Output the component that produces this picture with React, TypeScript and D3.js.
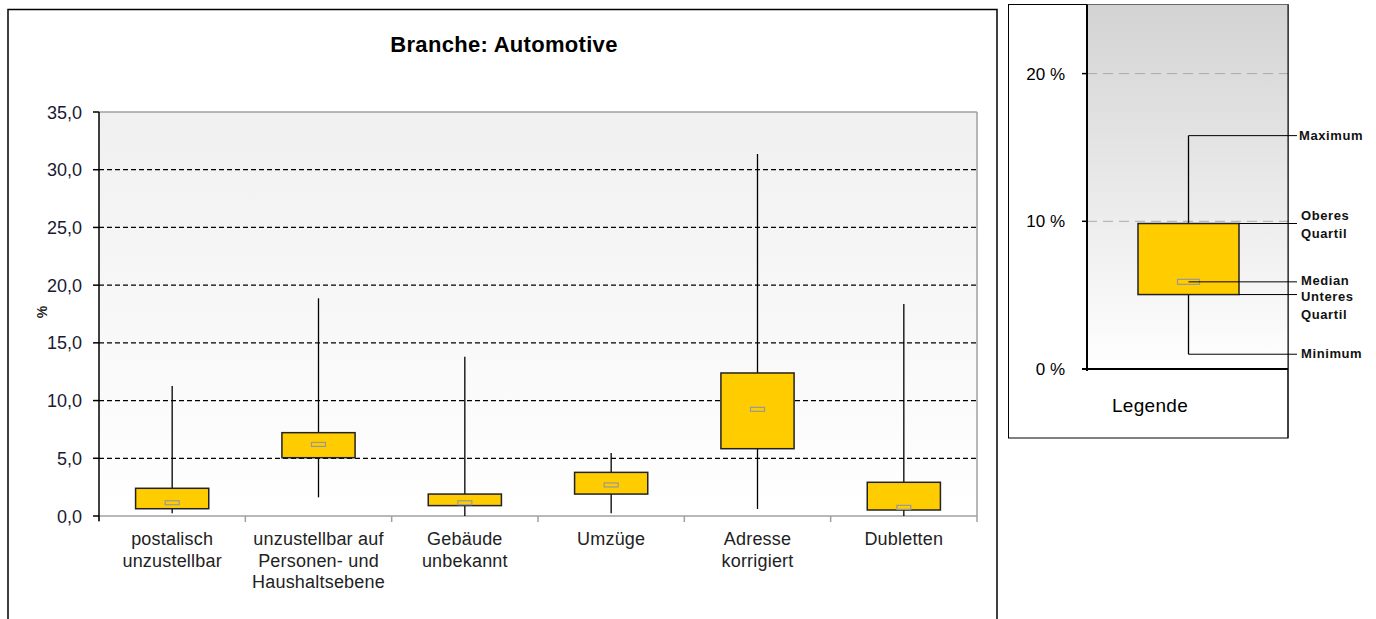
import React from "react";
import * as d3 from "d3";

const categories = [
  ["postalisch", "unzustellbar"],
  ["unzustellbar auf", "Personen- und", "Haushaltsebene"],
  ["Gebäude", "unbekannt"],
  ["Umzüge"],
  ["Adresse", "korrigiert"],
  ["Dubletten"],
];
const minValues = [0.23, 1.62, 0.0, 0.23, 0.6, 0.0];
const q1Values = [0.63, 5.05, 0.9, 1.9, 5.83, 0.52];
const medianValues = [1.15, 6.2, 1.15, 2.69, 9.24, 0.75];
const q3Values = [2.4, 7.22, 1.9, 3.78, 12.39, 2.92];
const maxValues = [11.26, 18.86, 13.8, 5.46, 31.36, 18.37];
const yTicks = [0, 5, 10, 15, 20, 25, 30, 35];

const legendStats = { min: 1.0, q1: 5.04, median: 5.9, q3: 9.85, max: 15.8 };
const legendTicks = [0, 10, 20];

const GOLD = "#ffcc00";
const FONT = "Arial, 'Liberation Sans', sans-serif";

export default function App() {
  const x0 = 99, x1 = 977, yTop = 112, yBot = 516;
  const y = d3.scaleLinear().domain([0, 35]).range([yBot, yTop]);
  const x = d3.scaleBand().domain(categories.map((_, i) => String(i))).range([x0, x1]).padding(0);
  const bw = x.bandwidth();
  const boxW = bw / 2;

  const ly = d3.scaleLinear().domain([0, 10]).range([369, 221.3]);
  const lx0 = 1087, lx1 = 1288;
  const lc = 1188.5, lbw = 101;
  const labX = 1299, lineEnd = 1297;

  const fmt = (v: number) => d3.format(".1f")(v).replace(".", ",");

  return (
    <svg width={1376} height={619} style={{ position: "absolute", left: 0, top: 0 }} fontFamily={FONT}>
      <defs>
        <linearGradient id="bgMain" x1="0" y1="0" x2="0" y2="1">
          <stop offset="0" stopColor="#f0f0f0" />
          <stop offset="1" stopColor="#ffffff" />
        </linearGradient>
        <linearGradient id="bgLeg" x1="0" y1="0" x2="0" y2="1">
          <stop offset="0" stopColor="#d3d3d3" />
          <stop offset="1" stopColor="#ffffff" />
        </linearGradient>
      </defs>
      <rect x={0} y={0} width={1376} height={619} fill="#fff" />
      {/* main frame */}
      <rect x={8} y={9.5} width={989} height={620} fill="none" stroke="#000" strokeWidth={1.5} />
      <text x={504} y={52} textAnchor="middle" fontSize={22} fontWeight="bold" fill="#000" letterSpacing={0.3}>Branche: Automotive</text>

      {/* plot area */}
      <rect x={x0} y={yTop} width={x1 - x0} height={yBot - yTop} fill="url(#bgMain)" />
      <line x1={x0} x2={x1} y1={yTop} y2={yTop} stroke="#a0a0a0" strokeWidth={1.5} />
      <line x1={x1} x2={x1} y1={yTop} y2={yBot + 6} stroke="#a0a0a0" strokeWidth={1.5} />
      {yTicks.filter((t) => t > 0 && t < 35).map((t) => (
        <line key={t} x1={x0} x2={x1} y1={y(t)} y2={y(t)} stroke="#000" strokeDasharray="5,3" strokeWidth={1.2} />
      ))}
      {/* x axis */}
      <line x1={x0} x2={x1} y1={yBot} y2={yBot} stroke="#a0a0a0" strokeWidth={1.5} />
      {categories.map((_, i) => (
        <line key={i} x1={(x(String(i)) as number)} x2={(x(String(i)) as number)} y1={yBot} y2={yBot + 6} stroke="#a0a0a0" strokeWidth={1.5} />
      ))}
      {/* y axis */}
      <line x1={x0} x2={x0} y1={yTop} y2={yBot + 5} stroke="#000" strokeWidth={1.5} />
      {yTicks.map((t) => (
        <g key={t}>
          <line x1={x0 - 6} x2={x0} y1={y(t)} y2={y(t)} stroke="#000" strokeWidth={1.5} />
          <text x={82} y={y(t) + 6.5} textAnchor="end" fontSize={18} fill="#1a1a33">{fmt(t)}</text>
        </g>
      ))}
      <text transform={`translate(47,312) rotate(-90)`} textAnchor="middle" fontSize={14} fontWeight="bold" fill="#222">%</text>

      {/* boxes */}
      {categories.map((c, i) => {
        const cx = (x(String(i)) as number) + bw / 2;
        return (
          <g key={i}>
            <line x1={cx} x2={cx} y1={y(maxValues[i])} y2={y(minValues[i])} stroke="#000" strokeWidth={1.3} />
            <rect x={cx - boxW / 2} y={y(q3Values[i])} width={boxW} height={y(q1Values[i]) - y(q3Values[i])} fill={GOLD} stroke="#222" strokeWidth={1.5} />
            <rect x={cx - 7} y={y(medianValues[i]) - 2} width={14} height={4} fill={GOLD} stroke="#999" strokeWidth={1.2} />
            {c.map((line, k) => (
              <text key={k} x={cx} y={545 + k * 21.7} textAnchor="middle" fontSize={18} fill="#222" letterSpacing={0.2}>{line}</text>
            ))}
          </g>
        );
      })}

      {/* legend panel */}
      <rect x={1008.5} y={4.5} width={279.5} height={433.5} fill="#fff" stroke="#000" strokeWidth={1} />
      <rect x={lx0} y={4.5} width={lx1 - lx0} height={369 - 4.5} fill="url(#bgLeg)" />
      {legendTicks.filter((t) => t > 0).map((t) => (
        <line key={t} x1={lx0} x2={lx1} y1={ly(t)} y2={ly(t)} stroke="#aaa" strokeDasharray="10,6" strokeWidth={1} />
      ))}
      <line x1={lx0} x2={lx0} y1={4.5} y2={371} stroke="#000" strokeWidth={2} />
      <line x1={lx0 - 5} x2={lx1} y1={369} y2={369} stroke="#000" strokeWidth={2} />
      {legendTicks.map((t) => (
        <g key={t}>
          <line x1={lx0 - 5} x2={lx0} y1={ly(t)} y2={ly(t)} stroke="#000" strokeWidth={1.5} />
          <text x={1065} y={ly(t) + 6} textAnchor="end" fontSize={17} fill="#000">{`${t} %`}</text>
        </g>
      ))}
      <line x1={lx1} x2={lx1} y1={4.5} y2={438} stroke="#000" strokeWidth={1} />
      {/* legend box */}
      <line x1={lc} x2={lc} y1={ly(legendStats.max)} y2={ly(legendStats.min)} stroke="#000" strokeWidth={1.3} />
      <rect x={lc - lbw / 2} y={ly(legendStats.q3)} width={lbw} height={ly(legendStats.q1) - ly(legendStats.q3)} fill={GOLD} stroke="#222" strokeWidth={1.5} />
      <rect x={lc - 11} y={ly(legendStats.median) - 2.5} width={22} height={5} fill={GOLD} stroke="#999" strokeWidth={1.2} />
      {/* leader lines */}
      <line x1={lc} x2={lineEnd} y1={ly(legendStats.max)} y2={ly(legendStats.max)} stroke="#000" strokeWidth={1} />
      <line x1={lc + lbw / 2} x2={lineEnd} y1={ly(legendStats.q3)} y2={ly(legendStats.q3)} stroke="#000" strokeWidth={1} />
      <line x1={lc} x2={lineEnd} y1={ly(legendStats.median)} y2={ly(legendStats.median)} stroke="#000" strokeWidth={1} />
      <line x1={lc + lbw / 2} x2={lineEnd} y1={ly(legendStats.q1)} y2={ly(legendStats.q1)} stroke="#000" strokeWidth={1} />
      <line x1={lc} x2={lineEnd} y1={ly(legendStats.min)} y2={ly(legendStats.min)} stroke="#000" strokeWidth={1} />
      <g fontSize={13} fontWeight="bold" fill="#111" letterSpacing={0.6}>
        <text x={labX} y={ly(legendStats.max) + 4.5}>Maximum</text>
        <text x={labX + 2} y={219.5}>Oberes</text>
        <text x={labX + 2} y={238}>Quartil</text>
        <text x={labX + 2} y={285}>Median</text>
        <text x={labX + 2} y={301}>Unteres</text>
        <text x={labX + 2} y={318.5}>Quartil</text>
        <text x={labX + 2} y={357.5}>Minimum</text>
      </g>
      <text x={1150} y={412} textAnchor="middle" fontSize={19} fill="#000" letterSpacing={0.3}>Legende</text>
    </svg>
  );
}
